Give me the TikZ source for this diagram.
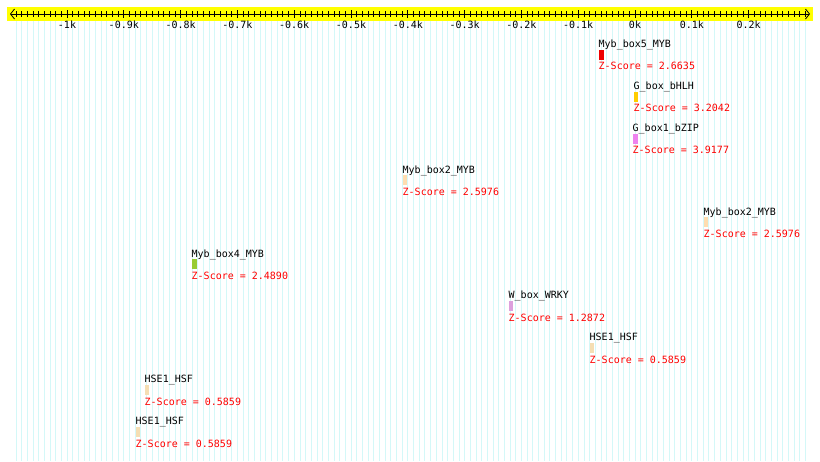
\documentclass[tikz,border=0pt]{standalone}
\usepackage{fontspec}
\setmonofont{DejaVu Sans Mono}
\usetikzlibrary{arrows.meta}
\definecolor{axisyellow}{HTML}{FFFF00}
\definecolor{gridcyan}{HTML}{D4F8F8}
\definecolor{zred}{HTML}{FF0000}
\definecolor{mybred}{HTML}{EE0000}
\definecolor{bhlhgold}{HTML}{FFCC00}
\definecolor{bzipviolet}{HTML}{EE82EE}
\definecolor{mybpeach}{HTML}{FFDDB0}
\definecolor{mybgreen}{HTML}{99CC33}
\definecolor{wrkyplum}{HTML}{DDA0DD}
\definecolor{hsfwheat}{HTML}{F5DEB3}
\begin{document}
\begin{tikzpicture}[x=1pt,y=-1pt, font=\ttfamily\fontsize{10}{12}\selectfont, line cap=butt,
  motifbox/.style={anchor=north west,inner sep=0pt,minimum height=10pt},
  motiflbl/.style={anchor=base west,inner sep=0pt},
  zscore/.style={anchor=base west,inner sep=0pt,text=zred},
  ticklbl/.style={anchor=base,inner sep=0pt},
  barb/.tip={Straight Barb[length=4pt,width=10pt]}]
\useasboundingbox (0,0) rectangle (820,461);
% ruler: yellow band, grid lines, ticks and kb labels
\fill[axisyellow] (7,7) rectangle (813,21);
\foreach \i in {-109,...,30} {\draw[gridcyan,line width=.7pt] ({635+5.68*\i},21) -- ({635+5.68*\i},461);}
\draw[black,line width=.8pt,barb-barb] (10,14) -- (810,14);
\foreach \i in {-109,...,30} {\draw[black,line width=.7pt] ({635+5.68*\i},11) -- ({635+5.68*\i},17);}
\foreach \v/\t [count=\k] in {-10/-1k,-9/-0.9k,-8/-0.8k,-7/-0.7k,-6/-0.6k,-5/-0.5k,-4/-0.4k,-3/-0.3k,-2/-0.2k,-1/-0.1k,0/0k,1/0.1k,2/0.2k} {
  \draw[black,line width=.8pt] ({635+56.8*\v},10) -- ({635+56.8*\v},18);
  \node[ticklbl] (tk\k) at ({635+56.8*\v},28) {\t};
}
% motif hits, one row each
\foreach \nm/\x/\w/\col/\zs [count=\r from 0] in {
  Myb\_box5\_MYB/599/5/mybred/2.6635,
  G\_box\_bHLH/634/4/bhlhgold/3.2042,
  G\_box1\_bZIP/633/5/bzipviolet/3.9177,
  Myb\_box2\_MYB/403/4/mybpeach/2.5976,
  Myb\_box2\_MYB/704/4/mybpeach/2.5976,
  Myb\_box4\_MYB/192/5/mybgreen/2.4890,
  W\_box\_WRKY/509/4/wrkyplum/1.2872,
  HSE1\_HSF/590/4/hsfwheat/0.5859,
  HSE1\_HSF/145/4/hsfwheat/0.5859,
  HSE1\_HSF/136/4/hsfwheat/0.5859} {
  \pgfmathsetmacro\yy{49.5+41.9*\r}
  \node[motifbox,fill=\col,minimum width=\w pt] (box\r) at (\x,\yy) {};
  \node[motiflbl] (lbl\r) at ([xshift=-.5pt,yshift=2pt]box\r.north west) {\nm};
  \node[zscore] (z\r) at ([xshift=-.5pt,yshift=-10pt]box\r.south west) {Z-Score = \zs};
}
\end{tikzpicture}
\end{document}
